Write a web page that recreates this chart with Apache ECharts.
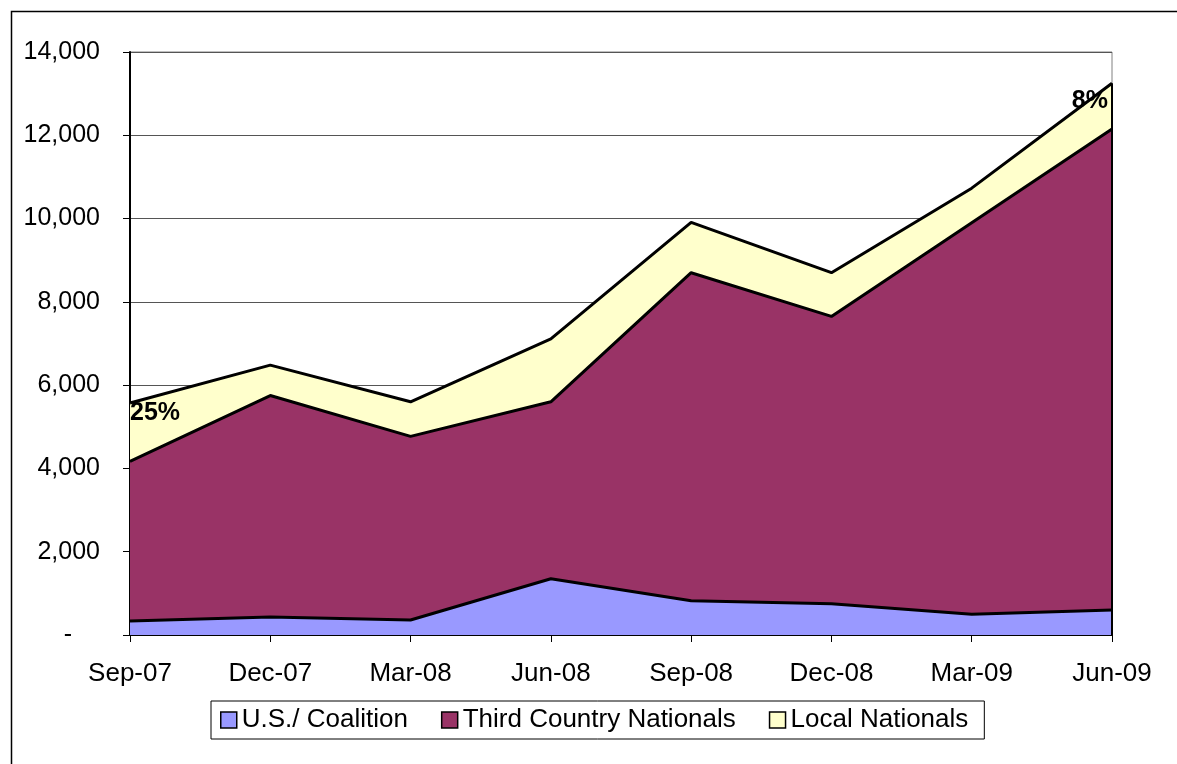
<!DOCTYPE html>
<html>
<head>
<meta charset="utf-8">
<script src="https://cdn.jsdelivr.net/npm/echarts@6/dist/echarts.min.js"></script>
<style>
html,body{margin:0;padding:0;background:#fff;}
#chart{width:1177px;height:764px;}
</style>
</head>
<body>
<div id="chart"></div>
<script>
var categories = ['Sep-07','Dec-07','Mar-08','Jun-08','Sep-08','Dec-08','Mar-09','Jun-09'];
var usCoalition = [335, 430, 360, 1350, 820, 750, 500, 600];
var thirdCountry = [3835, 5320, 4410, 4250, 7880, 6900, 9400, 11550];
var localNationals = [1400, 730, 830, 1510, 1210, 1050, 830, 1100];
var yTicks = [0, 2000, 4000, 6000, 8000, 10000, 12000, 14000];

var FONT = "'Liberation Sans', Arial, sans-serif";
var totals = categories.map(function(c, i){ return usCoalition[i] + thirdCountry[i] + localNationals[i]; });
var last = categories.length - 1;

function pct(i){ return Math.round(localNationals[i] / totals[i] * 100) + '%'; }

var lnData = localNationals.map(function(v, i){
  if (i === 0) {
    return {value: v, label: {show: true, position: 'right', distance: 0, offset: [0, 10],
      formatter: function(){ return pct(0); }}};
  }
  if (i === last) {
    return {value: v, label: {show: true, position: 'left', distance: 4, offset: [0, 18],
      formatter: function(){ return pct(last); }}};
  }
  return v;
});

var chart = echarts.init(document.getElementById('chart'), null, {renderer: 'canvas'});
chart.setOption({
  animation: false,
  backgroundColor: '#fff',
  textStyle: {fontFamily: FONT},
  graphic: [{
    type: 'rect', left: 9, top: 9, z: 100, silent: true,
    shape: {width: 1200, height: 800},
    style: {fill: 'none', stroke: '#000', lineWidth: 1.5}
  }],
  grid: {left: 130, right: 65, top: 52, bottom: 129, show: true, borderColor: '#808080', borderWidth: 1, containLabel: false},
  legend: {
    data: ['U.S./ Coalition', 'Third Country Nationals', 'Local Nationals'],
    left: 211, top: 701,
    padding: [6, 16, 6, 9],
    itemGap: 33,
    itemWidth: 16, itemHeight: 16,
    icon: 'rect',
    borderColor: '#000', borderWidth: 1,
    itemStyle: {borderColor: '#000', borderWidth: 1.5},
    textStyle: {fontFamily: FONT, fontSize: 26, color: '#000'}
  },
  xAxis: {
    type: 'category', data: categories, boundaryGap: false,
    axisLine: {show: true, onZero: false, lineStyle: {color: '#000', width: 2}},
    axisTick: {show: true, inside: false, length: 7, alignWithLabel: true, lineStyle: {color: '#000', width: 1}},
    axisLabel: {fontFamily: FONT, fontSize: 26, color: '#000', margin: 26, interval: 0},
    splitLine: {show: false}
  },
  yAxis: {
    type: 'value', min: yTicks[0], max: yTicks[yTicks.length - 1], interval: yTicks[1] - yTicks[0],
    axisLine: {show: true, lineStyle: {color: '#000', width: 2}},
    axisTick: {show: true, inside: false, length: 7, lineStyle: {color: '#000', width: 1}},
    axisLabel: {
      fontFamily: FONT, fontSize: 25, color: '#000', margin: 30,
      formatter: function(v){ return v === 0 ? '{z|-}' : v.toLocaleString('en-US'); },
      rich: {z: {fontFamily: FONT, fontSize: 25, color: '#000', padding: [0, 28, 0, 0]}}
    },
    splitLine: {show: true, lineStyle: {color: '#555', width: 1}}
  },
  series: [
    {
      name: 'U.S./ Coalition', type: 'line', stack: 'total', data: usCoalition,
      symbol: 'none', color: '#9999FF',
      itemStyle: {color: '#9999FF'},
      lineStyle: {color: '#000', width: 3},
      areaStyle: {color: '#9999FF', opacity: 1}
    },
    {
      name: 'Third Country Nationals', type: 'line', stack: 'total', data: thirdCountry,
      symbol: 'none', color: '#993366',
      itemStyle: {color: '#993366'},
      lineStyle: {color: '#000', width: 3},
      areaStyle: {color: '#993366', opacity: 1}
    },
    {
      name: 'Local Nationals', type: 'line', stack: 'total', data: lnData,
      symbol: 'circle', symbolSize: 0, showSymbol: true, color: '#FFFFCC',
      itemStyle: {color: '#FFFFCC'},
      lineStyle: {color: '#000', width: 3},
      areaStyle: {color: '#FFFFCC', opacity: 1},
      label: {fontFamily: FONT, fontSize: 25, fontWeight: 'bold', color: '#000'}
    },
    {
      name: 'edge', type: 'line', silent: true, symbol: 'none',
      data: [[categories[last], 0], [categories[last], totals[last]]],
      lineStyle: {color: '#000', width: 2}, z: 3
    }
  ]
});
</script>
</body>
</html>
